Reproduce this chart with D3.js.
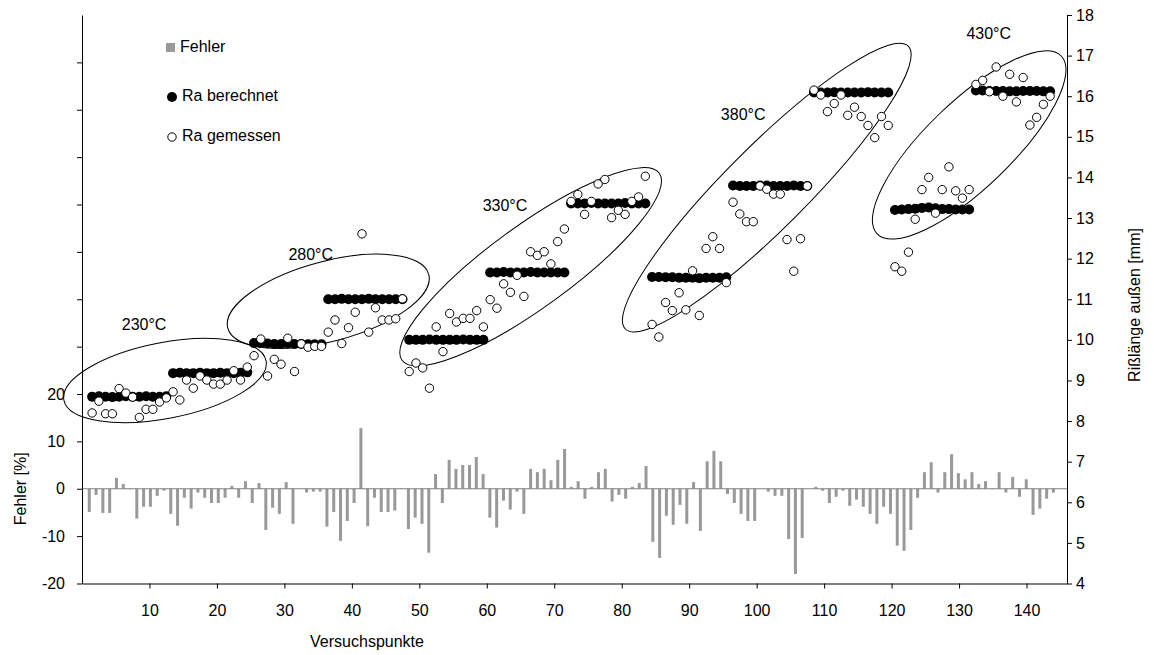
<!DOCTYPE html>
<html>
<head>
<meta charset="utf-8">
<script src="https://cdn.jsdelivr.net/npm/d3@7"></script>
<style>
  body { margin: 0; background: #fff; }
  svg text { font-family: Arial, "Liberation Sans", sans-serif; }
</style>
</head>
<body>
<svg id="chart" width="1154" height="655"></svg>
<script>
// Ra berechnet [mm], one value per Versuchspunkt (1..143)
var calculated = [
  8.60, 8.61, 8.60, 8.59, 8.60, 8.61, 8.60, 8.60, 8.61, 8.60, 8.60, 8.61,
  9.18, 9.19, 9.18, 9.18, 9.19, 9.18, 9.18, 9.19, 9.18, 9.18, 9.19, 9.20,
  9.92, 9.92, 9.91, 9.90, 9.90, 9.91, 9.90, 9.90, 9.89, 9.89, 9.89,
  11.00, 11.00, 11.01, 11.00, 11.00, 11.00, 11.01, 11.00, 11.00, 11.00, 11.00, 11.00,
  10.00, 10.00, 10.00, 10.01, 10.00, 10.00, 10.00, 10.00, 10.01, 10.00, 10.00, 10.00,
  11.66, 11.66, 11.67, 11.66, 11.66, 11.66, 11.67, 11.66, 11.66, 11.66, 11.66, 11.66,
  13.36, 13.36, 13.36, 13.37, 13.36, 13.36, 13.36, 13.36, 13.37, 13.36, 13.36, 13.36,
  11.55, 11.55, 11.54, 11.54, 11.53, 11.53, 11.53, 11.52, 11.53, 11.53, 11.53, 11.54,
  13.80, 13.79, 13.79, 13.79, 13.80, 13.80, 13.79, 13.79, 13.79, 13.80, 13.79, 13.79,
  16.09, 16.09, 16.09, 16.10, 16.09, 16.09, 16.09, 16.09, 16.10, 16.09, 16.09, 16.09,
  13.20, 13.21, 13.22, 13.23, 13.25, 13.26, 13.24, 13.22, 13.22, 13.21, 13.21, 13.21,
  16.14, 16.14, 16.13, 16.13, 16.13, 16.12, 16.12, 16.13, 16.13, 16.13, 16.12, 16.12
];

// Ra gemessen [mm]
var measured = [
  8.20, 8.49, 8.18, 8.18, 8.80, 8.69, 8.59, 8.09, 8.29, 8.29, 8.47, 8.57,
  8.72, 8.52, 9.01, 8.81, 9.11, 9.01, 8.91, 8.91, 9.01, 9.24, 9.01, 9.33,
  9.61, 10.02, 9.11, 9.52, 9.40, 10.04, 9.22, 9.90, 9.82, 9.84, 9.84,
  10.19, 10.49, 9.91, 10.30, 10.68, 12.61, 10.19, 10.79, 10.49, 10.49, 10.52, 11.01,
  9.22, 9.43, 9.31, 8.81, 10.32, 9.71, 10.65, 10.44, 10.53, 10.53, 10.72, 10.32,
  10.99, 10.78, 11.38, 11.17, 11.59, 11.07, 12.17, 12.08, 12.17, 11.87, 12.42, 12.73,
  13.41, 13.58, 13.09, 13.41, 13.84, 13.95, 13.01, 13.19, 13.09, 13.41, 13.52, 14.03,
  10.38, 10.07, 10.92, 10.72, 11.16, 10.74, 11.70, 10.60, 12.25, 12.54, 12.25, 11.41,
  13.39, 13.10, 12.91, 12.91, 13.79, 13.71, 13.59, 13.59, 12.47, 11.69, 12.49, 13.79,
  16.15, 16.03, 15.62, 15.82, 16.03, 15.53, 15.73, 15.50, 15.28, 14.98, 15.50, 15.28,
  11.80, 11.69, 12.16, 12.97, 13.70, 14.00, 13.12, 13.70, 14.26, 13.67, 13.49, 13.70,
  16.29, 16.39, 16.11, 16.72, 16.00, 16.54, 15.86, 16.46, 15.29, 15.48, 15.80, 16.00
];

// Fehler [%]
var errors = [
  -4.9, -1.3, -5.1, -5.1, 2.3, 1.0, -0.1, -6.3, -3.8, -3.8, -1.5, -0.4,
  -5.3, -7.8, -1.9, -4.2, -0.8, -1.9, -3.0, -3.0, -1.9, 0.6, -1.9, 1.6,
  -3.0, 1.2, -8.7, -4.0, -5.3, 1.4, -7.4, 0.0, -0.8, -0.6, -0.6,
  -8.0, -4.9, -11.0, -6.8, -3.0, 12.8, -7.9, -1.9, -4.9, -4.9, -4.6, 0.1,
  -8.5, -6.1, -7.4, -13.5, 3.1, -3.0, 6.1, 4.2, 5.0, 5.0, 6.7, 3.1,
  -6.1, -8.2, -2.5, -4.4, -0.6, -5.3, 4.2, 3.5, 4.2, 1.8, 6.1, 8.4,
  0.4, 1.6, -2.1, 0.4, 3.5, 4.2, -2.7, -1.3, -2.1, 0.4, 1.2, 4.8,
  -11.2, -14.6, -5.7, -7.6, -3.4, -7.4, 1.4, -8.9, 5.8, 8.0, 5.8, -1.1,
  -3.0, -5.3, -6.8, -6.8, 0.0, -0.6, -1.5, -1.5, -10.6, -18.0, -10.4, 0.0,
  0.4, -0.4, -3.0, -1.7, -0.4, -3.6, -2.3, -3.8, -5.3, -7.4, -3.8, -5.3,
  -12.0, -13.1, -8.7, -1.9, 3.5, 5.6, -0.8, 3.5, 7.3, 3.3, 2.0, 3.5,
  1.0, 1.6, -0.1, 3.5, -0.8, 2.5, -1.7, 2.0, -5.5, -4.2, -2.1, -0.8
];

// temperature groups: label, ellipse centre (Versuchspunkt, mm), half axes in px, angle
var groupLabels = ["230°C", "280°C", "330°C", "380°C", "430°C"];
var groupLabelPos = [[9.2, 10.34], [33.9, 12.07], [62.7, 13.27], [98.0, 15.51], [134.4, 17.51]];
var ellipseCentre = [[12.3, 9.0], [36.5, 10.95], [66.5, 11.8], [101.5, 13.75], [131.5, 14.8]];
var ellipseRadii = [[103, 38], [104, 40], [159, 41], [200, 41], [128, 43]];
var ellipseAngle = [-11, -15, -36, -45, -44];

var xTicks = [10, 20, 30, 40, 50, 60, 70, 80, 90, 100, 110, 120, 130, 140];
var leftTicks = [-20, -10, 0, 10, 20];
var leftTicksUnlabelled = [30, 40, 50, 60, 70, 80, 90];
var rightTicks = [4, 5, 6, 7, 8, 9, 10, 11, 12, 13, 14, 15, 16, 17, 18];

var svg = d3.select("#chart");
var plotLeft = 82, plotRight = 1067, plotTop = 15, plotBottom = 583.5;

var x = d3.scaleLinear().domain([0, 146]).range([plotLeft, plotRight]);
var xBar = d3.scaleLinear().domain([0, 145]).range([plotLeft + 0.5, plotRight]);
var yErr = d3.scaleLinear().domain([-20, 100]).range([plotBottom, plotTop]);
var yMm = d3.scaleLinear().domain([4, 18]).range([plotBottom, plotTop]);

var points = calculated.map(function(c, i) {
  return { k: i + 1, calc: c, meas: measured[i], err: errors[i] };
});

// error bars
svg.append("g").selectAll("rect").data(points).enter().append("rect")
  .attr("x", function(d) { return xBar(d.k) - 1.5; })
  .attr("width", 3)
  .attr("y", function(d) { return Math.min(yErr(d.err), yErr(0)); })
  .attr("height", function(d) { return Math.abs(yErr(d.err) - yErr(0)); })
  .style("fill", "#999999");

svg.append("line")
  .attr("x1", plotLeft).attr("x2", plotRight)
  .attr("y1", yErr(0)).attr("y2", yErr(0))
  .style("stroke", "#808080").style("stroke-width", 1);

// ellipses round the temperature groups
var ell = svg.append("g");
groupLabels.forEach(function(t, i) {
  ell.append("ellipse")
    .attr("transform", "translate(" + x(ellipseCentre[i][0]) + "," + yMm(ellipseCentre[i][1]) + ") rotate(" + ellipseAngle[i] + ")")
    .attr("rx", ellipseRadii[i][0]).attr("ry", ellipseRadii[i][1])
    .style("fill", "none").style("stroke", "#000").style("stroke-width", 1);
  ell.append("text")
    .attr("x", x(groupLabelPos[i][0])).attr("y", yMm(groupLabelPos[i][1]))
    .attr("text-anchor", "middle").attr("dominant-baseline", "middle")
    .style("font-size", "16px")
    .text(t);
});

// calculated (filled) and measured (open) circles
svg.append("g").selectAll("circle").data(points).enter().append("circle")
  .attr("cx", function(d) { return x(d.k + 0.5); })
  .attr("cy", function(d) { return yMm(d.calc); })
  .attr("r", 5)
  .style("fill", "#000");

svg.append("g").selectAll("circle").data(points).enter().append("circle")
  .attr("cx", function(d) { return x(d.k + 0.5); })
  .attr("cy", function(d) { return yMm(d.meas); })
  .attr("r", 4.2)
  .style("fill", "#fff").style("stroke", "#000").style("stroke-width", 1);

// axes (plain hyphen for negative labels, as in the original)
var plain = function(d) { return String(d); };

var xAxis = d3.axisBottom(x).tickValues(xTicks).tickSize(5).tickPadding(16).tickSizeOuter(0);
svg.append("g").attr("transform", "translate(0," + plotBottom + ")").call(xAxis);

var yLeftAxis = d3.axisLeft(yErr).tickValues(leftTicks).tickFormat(plain).tickSize(5).tickPadding(12).tickSizeOuter(0);
svg.append("g").attr("transform", "translate(" + plotLeft + ",0)").call(yLeftAxis);

var yLeftMarks = d3.axisLeft(yErr).tickValues(leftTicksUnlabelled).tickSize(5).tickFormat("");
var leftMarks = svg.append("g").attr("transform", "translate(" + plotLeft + ",0)").call(yLeftMarks);
leftMarks.select(".domain").remove();

var yRightAxis = d3.axisRight(yMm).tickValues(rightTicks).tickSize(5).tickPadding(4).tickSizeOuter(0);
svg.append("g").attr("transform", "translate(" + plotRight + ",0)").call(yRightAxis);

svg.selectAll(".tick text").style("font-size", "16px").style("fill", "#000");
svg.selectAll(".domain, .tick line").style("stroke", "#000");

// axis titles
svg.append("text")
  .attr("transform", "translate(26," + yErr(0) + ") rotate(-90)")
  .attr("text-anchor", "middle").style("font-size", "16px")
  .text("Fehler [%]");

svg.append("text")
  .attr("transform", "translate(1140,305) rotate(-90)")
  .attr("text-anchor", "middle").style("font-size", "16px")
  .text("Rißlänge außen [mm]");

svg.append("text")
  .attr("x", 367).attr("y", 647)
  .attr("text-anchor", "middle").style("font-size", "16px")
  .text("Versuchspunkte");

// legend
var legend = svg.append("g");
legend.append("rect").attr("x", 166).attr("y", 43).attr("width", 9).attr("height", 9).style("fill", "#999999");
legend.append("text").attr("x", 180).attr("y", 48).attr("dominant-baseline", "middle").style("font-size", "16px").text("Fehler");
legend.append("circle").attr("cx", 172).attr("cy", 97).attr("r", 5).style("fill", "#000");
legend.append("text").attr("x", 182).attr("y", 97).attr("dominant-baseline", "middle").style("font-size", "16px").text("Ra berechnet");
legend.append("circle").attr("cx", 172).attr("cy", 137).attr("r", 4.2).style("fill", "#fff").style("stroke", "#000");
legend.append("text").attr("x", 182).attr("y", 137).attr("dominant-baseline", "middle").style("font-size", "16px").text("Ra gemessen");
</script>
</body>
</html>
